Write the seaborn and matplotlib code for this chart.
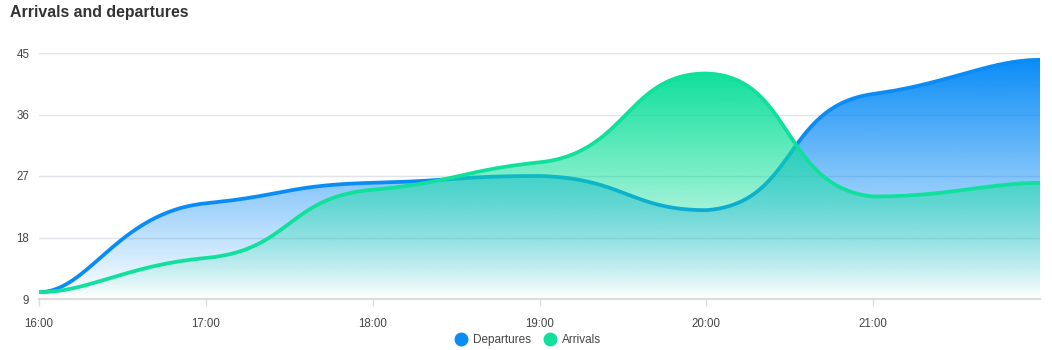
import numpy as np
import pandas as pd
import matplotlib
matplotlib.use("Agg")
import matplotlib.pyplot as plt
from matplotlib.lines import Line2D
from matplotlib.patches import Polygon
import seaborn as sns

hours = [16, 17, 18, 19, 20, 21, 22]
tick_labels = ["16:00", "17:00", "18:00", "19:00", "20:00", "21:00"]
departures = [10, 23, 26, 27, 22, 39, 44]
arrivals = [10, 15, 25, 29, 42, 24, 26]
y_ticks = [9, 18, 27, 36, 45]

BLUE = "#0a8cf7"
GREEN = "#10e09b"

sns.set_theme(style="white")
plt.rcParams["font.family"] = ["Liberation Sans", "DejaVu Sans"]

XS, YS = 167.0, 6.8  # pixel scale for smoothing


def smooth_curve(xv, yv, smooth=0.5, yfac=0.3, n=60):
    P = np.column_stack([np.array(xv, float) * XS, np.array(yv, float) * YS])
    m = len(P)
    cpa = P.copy()
    cpb = P.copy()
    for i in range(1, m - 1):
        prev, cur, nxt = P[i - 1], P[i], P[i + 1]
        l0 = np.hypot(*(cur - prev))
        l1 = np.hypot(*(nxt - cur))
        s = l0 + l1
        l0, l1 = l0 / s, l1 / s
        v = nxt - prev
        v = np.array([v[0], v[1] * yfac])
        a = cur - v * smooth * l0
        b = cur + v * smooth * l1
        a[1] = np.clip(a[1], min(prev[1], cur[1]), max(prev[1], cur[1]))
        b[1] = np.clip(b[1], min(nxt[1], cur[1]), max(nxt[1], cur[1]))
        cpa[i], cpb[i] = a, b
    # flat-ish ends
    cpb[0] = P[0] + np.array([(P[1][0] - P[0][0]) * smooth * 0.6, 0])
    cpa[-1] = P[-1] - np.array([(P[-1][0] - P[-2][0]) * smooth * 0.6, 0])
    out = []
    t = np.linspace(0, 1, n)[:, None]
    for i in range(m - 1):
        p0, p1, p2, p3 = P[i], cpb[i], cpa[i + 1], P[i + 1]
        seg = ((1 - t) ** 3) * p0 + 3 * ((1 - t) ** 2) * t * p1 + 3 * (1 - t) * t ** 2 * p2 + t ** 3 * p3
        out.append(seg if i == 0 else seg[1:])
    out = np.vstack(out)
    return out[:, 0] / XS, out[:, 1] / YS


fig = plt.figure(figsize=(10.52, 3.5), dpi=100)
ax = fig.add_axes([39 / 1052, 51 / 350, 1001 / 1052, 246 / 350])

ymin, ymax = 9, 45
series = [("Departures", departures, BLUE, 2), ("Arrivals", arrivals, GREEN, 4)]
for name, vals, col, z in series:
    sx, sy = smooth_curve(hours, vals)
    top = max(vals)
    rgb = matplotlib.colors.to_rgb(col)
    grad = np.zeros((256, 2, 4))
    grad[:, :, :3] = rgb
    grad[:, :, 3] = np.linspace(1.0, 0.0, 256)[:, None]
    im = ax.imshow(grad, extent=[hours[0], hours[-1], ymin, top], aspect="auto",
                   origin="upper", zorder=z, interpolation="bilinear")
    poly = Polygon(np.column_stack([np.r_[sx, sx[-1], sx[0]], np.r_[sy, ymin, ymin]]),
                   closed=True, facecolor="none", edgecolor="none", transform=ax.transData)
    ax.add_patch(poly)
    im.set_clip_path(poly)
    df = pd.DataFrame({"x": sx, "y": sy})
    sns.lineplot(data=df, x="x", y="y", ax=ax, color=col, linewidth=2.7,
                 zorder=z + 1, sort=False, estimator=None)

ax.set_xlim(hours[0], hours[-1])
ax.set_ylim(ymin, ymax)
ax.set_yticks(y_ticks)
ax.set_yticklabels([str(v) for v in y_ticks])
ax.set_xticks(hours[:-1])
ax.set_xticklabels(tick_labels)
ax.set_xlabel("")
ax.set_ylabel("")
for v in y_ticks[1:]:
    ax.axhline(v, color="#e0e3e8", linewidth=1.0, zorder=1)
for s in ["top", "right", "left"]:
    ax.spines[s].set_visible(False)
ax.spines["bottom"].set_color("#dcdcdc")
ax.spines["bottom"].set_linewidth(1.6)
ax.spines["bottom"].set_zorder(6)
ax.tick_params(axis="x", length=5, width=1, color="#dcdcdc", labelsize=8.3, labelcolor="#444444", pad=9, bottom=True)
ax.tick_params(axis="y", length=0, labelsize=8.3, labelcolor="#444444", pad=7)

fig.text(10 / 1052, 1 - 12 / 350, "Arrivals and departures", fontsize=11.4, fontweight="bold",
         color="#333333", va="center", ha="left")

handles = [Line2D([], [], marker="o", linestyle="none", markersize=9, color=BLUE, label="Departures"),
           Line2D([], [], marker="o", linestyle="none", markersize=9, color=GREEN, label="Arrivals")]
fig.legend(handles=handles, loc="center", bbox_to_anchor=(525 / 1052, 1 - 340 / 350), ncol=2,
           frameon=False, fontsize=8.5, handletextpad=0.05, columnspacing=0.6, labelcolor="#444444")

fig.savefig("out.png", dpi=100)
